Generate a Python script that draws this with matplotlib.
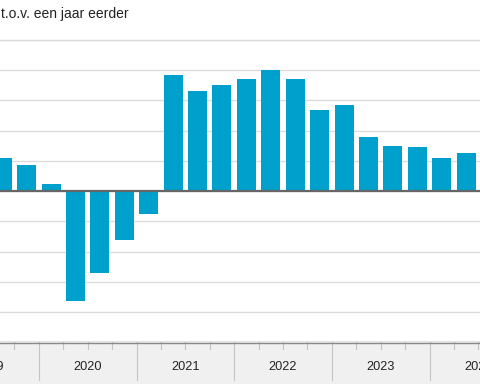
import matplotlib
matplotlib.use("Agg")
import matplotlib.pyplot as plt
import numpy as np

plt.rcParams['font.family'] = ['Liberation Sans', 'DejaVu Sans']

# Data: year-on-year change (%), quarterly, 2019Q3 .. 2024Q2
years = [2019, 2019, 2020, 2020, 2020, 2020, 2021, 2021, 2021, 2021,
         2022, 2022, 2022, 2022, 2023, 2023, 2023, 2023, 2024, 2024]
quarters = [3, 4, 1, 2, 3, 4, 1, 2, 3, 4, 1, 2, 3, 4, 1, 2, 3, 4, 1, 2]
values = [2.2, 1.7, 0.5, -7.3, -5.4, -3.2, -1.5, 7.7, 6.6, 7.0,
          7.4, 8.0, 7.4, 5.4, 5.7, 3.6, 3.0, 2.9, 2.2, 2.5]
year_labels = [2019, 2020, 2021, 2022, 2023, 2024]
title = "t.o.v. een jaar eerder"

W, H = 480, 384
fig = plt.figure(figsize=(W / 100, H / 100), dpi=100)
fig.patch.set_facecolor('white')

# layout in pixels
plot_top = 40.0
axis_y = 342.3
x_2020 = 38.8
px_per_year = 97.7
xmin = 2020 - x_2020 / px_per_year
xmax = 2020 + (W - x_2020) / px_per_year

ax = fig.add_axes([0, 1 - axis_y / H, 1, (axis_y - plot_top) / H])
band = fig.add_axes([0, 0, 1, 1 - axis_y / H])

xs = np.array(years) + (np.array(quarters) - 1) / 4 + 0.125
bar_color = '#00a0cc'
ax.bar(xs, values, width=19 / px_per_year, color=bar_color, zorder=3)

ax.set_xlim(xmin, xmax)
ax.set_ylim(-10, 10)
ax.set_yticks(np.arange(-10, 11, 2))
ax.set_xticks([])
ax.tick_params(axis='y', length=0, labelleft=False)
ax.yaxis.grid(True, color='#dcdcdc', linewidth=1.0, zorder=0)
ax.set_axisbelow(True)
for s in ['left', 'right', 'top']:
    ax.spines[s].set_visible(False)
ax.spines['bottom'].set_color('#888888')
ax.spines['bottom'].set_linewidth(1.0)
ax.axhline(0, color='#666666', linewidth=1.6, zorder=4)
ax.axhline(10, color='#dcdcdc', linewidth=1.0, zorder=0, clip_on=False)

# bottom band with year separators and quarter ticks
band.set_facecolor('#f0f0f0')
band.set_xlim(xmin, xmax)
band.set_ylim(H - axis_y, 0)  # pixel-like coordinates: 0 at top of band
for s in band.spines.values():
    s.set_visible(False)
band.set_xticks([])
band.set_yticks([])
for yr in year_labels:
    band.plot([yr, yr], [0, 38], color='#c4c4c4', linewidth=0.8)
    for q in (1, 2, 3):
        band.plot([yr + q / 4, yr + q / 4], [0, 6.5], color='#c4c4c4', linewidth=0.8)
    band.text(yr + 0.5, 28, str(yr), ha='center', va='baseline',
              fontsize=9.2, color='#222222')
band.plot([xmin, xmax], [0.3, 0.3], color='#888888', linewidth=1.0)

fig.text(1 / W, 1 - 18 / H, title, ha='left', va='baseline', fontsize=10, color='#222222')

fig.savefig('out.png', dpi=100, facecolor='white')
